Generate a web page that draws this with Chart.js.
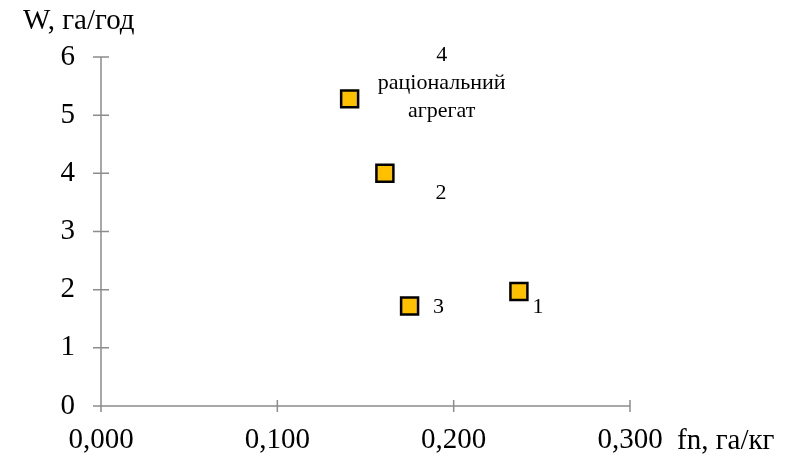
<!DOCTYPE html>
<html>
<head>
<meta charset="utf-8">
<script src="https://cdn.jsdelivr.net/npm/chart.js@4.4.0/dist/chart.umd.min.js"></script>
<style>
  html, body { margin: 0; padding: 0; background: #ffffff; }
  #wrap { width: 791px; height: 457px; position: relative; }
</style>
</head>
<body>
<div id="wrap"><canvas id="chart"></canvas></div>
<script>
// Дані графіка
const fnValues = [0.237, 0.161, 0.175, 0.141];   // fn, га/кг
const wValues = [1.97, 4.0, 1.72, 5.28];         // W, га/год
const pointNames = [['1'], ['2'], ['3'], ['4', 'раціональний', 'агрегат']];
const xTicks = [0, 0.1, 0.2, 0.3];
const yTicks = [0, 1, 2, 3, 4, 5, 6];

// Зміщення підписів точок (px)
const labelOffsets = [[19, 16], [56, 20], [29, 1], [92, -44]];

const axisColor = '#8c8c8c';
const fontFamily = '"Liberation Serif", "Times New Roman", serif';

// Плагін: риски осей, що перетинають вісь, назви осей і підписи точок
const annotatePlugin = {
    id: 'annotate',
    afterDraw(chart) {
        const ctx = chart.ctx;
        const xs = chart.scales.x;
        const ys = chart.scales.y;
        const area = chart.chartArea;
        ctx.save();
        ctx.strokeStyle = axisColor;
        ctx.lineWidth = 1.5;
        ctx.beginPath();
        ctx.moveTo(area.left, ys.getPixelForValue(6));
        ctx.lineTo(area.left, area.bottom);
        ctx.lineTo(xs.getPixelForValue(0.3), area.bottom);
        xTicks.forEach(v => {
            const px = xs.getPixelForValue(v);
            ctx.moveTo(px, area.bottom - 6);
            ctx.lineTo(px, area.bottom + 6);
        });
        yTicks.forEach(v => {
            const py = ys.getPixelForValue(v);
            ctx.moveTo(area.left - 8, py);
            ctx.lineTo(area.left + 8, py);
        });
        ctx.stroke();

        ctx.fillStyle = '#000000';
        ctx.font = '29px ' + fontFamily;
        ctx.textBaseline = 'middle';
        ctx.textAlign = 'left';
        ctx.fillText('W, га/год', 23, 21);
        ctx.fillText('fn, га/кг', 677, 441);

        ctx.font = '22px ' + fontFamily;
        ctx.textAlign = 'center';
        const meta = chart.getDatasetMeta(0);
        meta.data.forEach((pt, i) => {
            const lines = pointNames[i];
            const [dx, dy] = labelOffsets[i];
            lines.forEach((line, j) => {
                ctx.fillText(line, pt.x + dx, pt.y + dy + j * 28);
            });
        });
        ctx.restore();
    }
};

new Chart(document.getElementById('chart'), {
    type: 'scatter',
    data: {
        datasets: [{
            data: fnValues.map((x, i) => ({ x: x, y: wValues[i] })),
            pointStyle: 'rect',
            pointRadius: 12,
            pointHoverRadius: 12,
            backgroundColor: '#ffc000',
            borderColor: '#000000',
            borderWidth: 2.5
        }]
    },
    options: {
        responsive: true,
        maintainAspectRatio: false,
        animation: false,
        events: [],
        layout: { padding: { top: 57, right: 161, left: 0, bottom: 0 } },
        plugins: { legend: { display: false }, tooltip: { enabled: false } },
        scales: {
            x: {
                type: 'linear',
                min: 0,
                max: 0.3,
                afterBuildTicks: s => { s.ticks = xTicks.map(v => ({ value: v })); },
                afterFit: s => { s.height = 51; },
                border: { display: false },
                grid: { display: false },
                ticks: {
                    color: '#000000',
                    padding: 9,
                    maxRotation: 0,
                    font: { family: fontFamily, size: 29 },
                    callback: v => v.toFixed(3).replace('.', ',')
                }
            },
            y: {
                type: 'linear',
                min: 0,
                max: 6,
                afterBuildTicks: s => { s.ticks = yTicks.map(v => ({ value: v })); },
                afterFit: s => { s.width = 101; },
                border: { display: false },
                grid: { display: false },
                ticks: {
                    color: '#000000',
                    padding: 18,
                    font: { family: fontFamily, size: 29 }
                }
            }
        }
    },
    plugins: [annotatePlugin]
});
</script>
</body>
</html>
